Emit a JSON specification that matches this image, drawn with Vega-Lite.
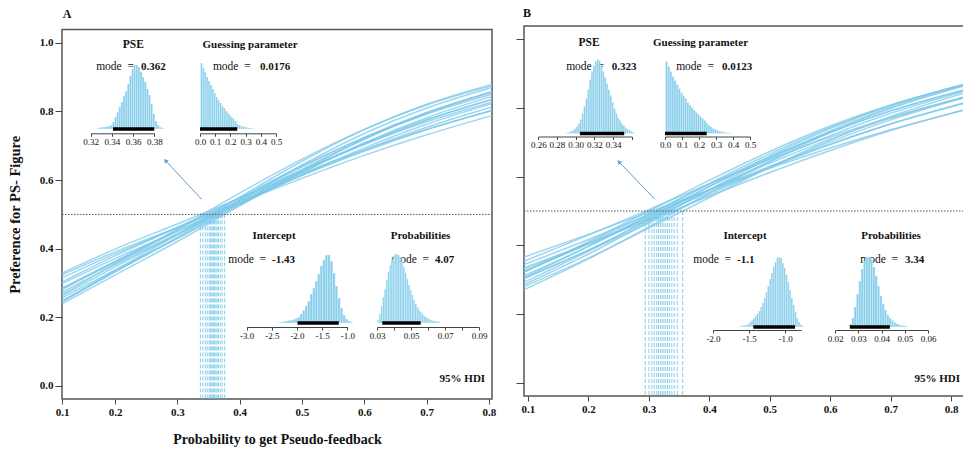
{
"$schema":"https://vega.github.io/schema/vega-lite/v6.json",
"width":963,"height":452,"autosize":{"type":"none"},"padding":0,"background":"white",
"config":{"view":{"stroke":null},"font":"Liberation Serif",
 "axis":{"grid":false,"domain":false,"zindex":1,"labelFont":"Liberation Serif","titleFont":"Liberation Serif","tickColor":"#444","domainColor":"#444","labelColor":"#111","titleColor":"#111","labelFlush":false,"labelOverlap":false},
 "text":{"font":"Liberation Serif","color":"#111"}},
"resolve":{"scale":{"x":"independent","y":"independent"},"axis":{"x":"independent","y":"independent"}},
"data":{"values":[{}]},
"datasets":{
"curvesA":[
{"c":"A1","x":0.1,"p":0.329},{"c":"A1","x":0.2,"p":0.399},{"c":"A1","x":0.3,"p":0.472},{"c":"A1","x":0.4,"p":0.547},{"c":"A1","x":0.5,"p":0.62},{"c":"A1","x":0.6,"p":0.688},{"c":"A1","x":0.7,"p":0.748},{"c":"A1","x":0.805,"p":0.803},
{"c":"A2","x":0.1,"p":0.267},{"c":"A2","x":0.2,"p":0.356},{"c":"A2","x":0.3,"p":0.457},{"c":"A2","x":0.4,"p":0.562},{"c":"A2","x":0.5,"p":0.661},{"c":"A2","x":0.6,"p":0.748},{"c":"A2","x":0.7,"p":0.819},{"c":"A2","x":0.805,"p":0.875},
{"c":"A3","x":0.1,"p":0.303},{"c":"A3","x":0.2,"p":0.379},{"c":"A3","x":0.3,"p":0.462},{"c":"A3","x":0.4,"p":0.547},{"c":"A3","x":0.5,"p":0.629},{"c":"A3","x":0.6,"p":0.704},{"c":"A3","x":0.7,"p":0.77},{"c":"A3","x":0.805,"p":0.827},
{"c":"A4","x":0.1,"p":0.281},{"c":"A4","x":0.2,"p":0.363},{"c":"A4","x":0.3,"p":0.455},{"c":"A4","x":0.4,"p":0.549},{"c":"A4","x":0.5,"p":0.641},{"c":"A4","x":0.6,"p":0.723},{"c":"A4","x":0.7,"p":0.792},{"c":"A4","x":0.805,"p":0.85},
{"c":"A5","x":0.1,"p":0.315},{"c":"A5","x":0.2,"p":0.385},{"c":"A5","x":0.3,"p":0.461},{"c":"A5","x":0.4,"p":0.538},{"c":"A5","x":0.5,"p":0.614},{"c":"A5","x":0.6,"p":0.684},{"c":"A5","x":0.7,"p":0.747},{"c":"A5","x":0.805,"p":0.803},
{"c":"A6","x":0.1,"p":0.246},{"c":"A6","x":0.2,"p":0.337},{"c":"A6","x":0.3,"p":0.441},{"c":"A6","x":0.4,"p":0.55},{"c":"A6","x":0.5,"p":0.655},{"c":"A6","x":0.6,"p":0.747},{"c":"A6","x":0.7,"p":0.821},{"c":"A6","x":0.805,"p":0.879},
{"c":"A7","x":0.1,"p":0.285},{"c":"A7","x":0.2,"p":0.363},{"c":"A7","x":0.3,"p":0.45},{"c":"A7","x":0.4,"p":0.539},{"c":"A7","x":0.5,"p":0.627},{"c":"A7","x":0.6,"p":0.706},{"c":"A7","x":0.7,"p":0.775},{"c":"A7","x":0.805,"p":0.834},
{"c":"A8","x":0.1,"p":0.263},{"c":"A8","x":0.2,"p":0.347},{"c":"A8","x":0.3,"p":0.442},{"c":"A8","x":0.4,"p":0.542},{"c":"A8","x":0.5,"p":0.638},{"c":"A8","x":0.6,"p":0.725},{"c":"A8","x":0.7,"p":0.797},{"c":"A8","x":0.805,"p":0.857},
{"c":"A9","x":0.1,"p":0.298},{"c":"A9","x":0.2,"p":0.371},{"c":"A9","x":0.3,"p":0.451},{"c":"A9","x":0.4,"p":0.533},{"c":"A9","x":0.5,"p":0.614},{"c":"A9","x":0.6,"p":0.688},{"c":"A9","x":0.7,"p":0.754},{"c":"A9","x":0.805,"p":0.813},
{"c":"A10","x":0.1,"p":0.245},{"c":"A10","x":0.2,"p":0.332},{"c":"A10","x":0.3,"p":0.434},{"c":"A10","x":0.4,"p":0.541},{"c":"A10","x":0.5,"p":0.644},{"c":"A10","x":0.6,"p":0.736},{"c":"A10","x":0.7,"p":0.81},{"c":"A10","x":0.805,"p":0.87},
{"c":"A11","x":0.1,"p":0.274},{"c":"A11","x":0.2,"p":0.353},{"c":"A11","x":0.3,"p":0.441},{"c":"A11","x":0.4,"p":0.533},{"c":"A11","x":0.5,"p":0.623},{"c":"A11","x":0.6,"p":0.705},{"c":"A11","x":0.7,"p":0.776},{"c":"A11","x":0.805,"p":0.836},
{"c":"A12","x":0.1,"p":0.283},{"c":"A12","x":0.2,"p":0.359},{"c":"A12","x":0.3,"p":0.443},{"c":"A12","x":0.4,"p":0.53},{"c":"A12","x":0.5,"p":0.615},{"c":"A12","x":0.6,"p":0.694},{"c":"A12","x":0.7,"p":0.763},{"c":"A12","x":0.805,"p":0.823},
{"c":"A13","x":0.1,"p":0.249},{"c":"A13","x":0.2,"p":0.333},{"c":"A13","x":0.3,"p":0.43},{"c":"A13","x":0.4,"p":0.532},{"c":"A13","x":0.5,"p":0.631},{"c":"A13","x":0.6,"p":0.72},{"c":"A13","x":0.7,"p":0.795},{"c":"A13","x":0.805,"p":0.857},
{"c":"A14","x":0.1,"p":0.257},{"c":"A14","x":0.2,"p":0.338},{"c":"A14","x":0.3,"p":0.43},{"c":"A14","x":0.4,"p":0.527},{"c":"A14","x":0.5,"p":0.622},{"c":"A14","x":0.6,"p":0.709},{"c":"A14","x":0.7,"p":0.782},{"c":"A14","x":0.805,"p":0.844},
{"c":"A15","x":0.1,"p":0.239},{"c":"A15","x":0.2,"p":0.323},{"c":"A15","x":0.3,"p":0.421},{"c":"A15","x":0.4,"p":0.525},{"c":"A15","x":0.5,"p":0.627},{"c":"A15","x":0.6,"p":0.719},{"c":"A15","x":0.7,"p":0.796},{"c":"A15","x":0.805,"p":0.858},
{"c":"A16","x":0.1,"p":0.324},{"c":"A16","x":0.2,"p":0.391},{"c":"A16","x":0.3,"p":0.462},{"c":"A16","x":0.4,"p":0.534},{"c":"A16","x":0.5,"p":0.605},{"c":"A16","x":0.6,"p":0.672},{"c":"A16","x":0.7,"p":0.732},{"c":"A16","x":0.805,"p":0.788}
],
"curvesB":[
{"c":"B1","x":0.0934,"p":0.354},{"c":"B1","x":0.2,"p":0.43},{"c":"B1","x":0.3,"p":0.504},{"c":"B1","x":0.4,"p":0.579},{"c":"B1","x":0.5,"p":0.65},{"c":"B1","x":0.6,"p":0.715},{"c":"B1","x":0.7,"p":0.772},{"c":"B1","x":0.82,"p":0.829},
{"c":"B2","x":0.0934,"p":0.322},{"c":"B2","x":0.2,"p":0.411},{"c":"B2","x":0.3,"p":0.5},{"c":"B2","x":0.4,"p":0.589},{"c":"B2","x":0.5,"p":0.673},{"c":"B2","x":0.6,"p":0.747},{"c":"B2","x":0.7,"p":0.808},{"c":"B2","x":0.82,"p":0.867},
{"c":"B3","x":0.0934,"p":0.366},{"c":"B3","x":0.2,"p":0.432},{"c":"B3","x":0.3,"p":0.497},{"c":"B3","x":0.4,"p":0.561},{"c":"B3","x":0.5,"p":0.624},{"c":"B3","x":0.6,"p":0.683},{"c":"B3","x":0.7,"p":0.736},{"c":"B3","x":0.82,"p":0.792},
{"c":"B4","x":0.0934,"p":0.324},{"c":"B4","x":0.2,"p":0.408},{"c":"B4","x":0.3,"p":0.492},{"c":"B4","x":0.4,"p":0.577},{"c":"B4","x":0.5,"p":0.657},{"c":"B4","x":0.6,"p":0.729},{"c":"B4","x":0.7,"p":0.791},{"c":"B4","x":0.82,"p":0.85},
{"c":"B5","x":0.0934,"p":0.307},{"c":"B5","x":0.2,"p":0.397},{"c":"B5","x":0.3,"p":0.488},{"c":"B5","x":0.4,"p":0.58},{"c":"B5","x":0.5,"p":0.666},{"c":"B5","x":0.6,"p":0.743},{"c":"B5","x":0.7,"p":0.807},{"c":"B5","x":0.82,"p":0.867},
{"c":"B6","x":0.0934,"p":0.344},{"c":"B6","x":0.2,"p":0.417},{"c":"B6","x":0.3,"p":0.489},{"c":"B6","x":0.4,"p":0.561},{"c":"B6","x":0.5,"p":0.63},{"c":"B6","x":0.6,"p":0.695},{"c":"B6","x":0.7,"p":0.753},{"c":"B6","x":0.82,"p":0.812},
{"c":"B7","x":0.0934,"p":0.312},{"c":"B7","x":0.2,"p":0.397},{"c":"B7","x":0.3,"p":0.483},{"c":"B7","x":0.4,"p":0.571},{"c":"B7","x":0.5,"p":0.653},{"c":"B7","x":0.6,"p":0.728},{"c":"B7","x":0.7,"p":0.791},{"c":"B7","x":0.82,"p":0.852},
{"c":"B8","x":0.0934,"p":0.324},{"c":"B8","x":0.2,"p":0.404},{"c":"B8","x":0.3,"p":0.483},{"c":"B8","x":0.4,"p":0.562},{"c":"B8","x":0.5,"p":0.639},{"c":"B8","x":0.6,"p":0.709},{"c":"B8","x":0.7,"p":0.77},{"c":"B8","x":0.82,"p":0.831},
{"c":"B9","x":0.0934,"p":0.293},{"c":"B9","x":0.2,"p":0.383},{"c":"B9","x":0.3,"p":0.476},{"c":"B9","x":0.4,"p":0.571},{"c":"B9","x":0.5,"p":0.66},{"c":"B9","x":0.6,"p":0.74},{"c":"B9","x":0.7,"p":0.806},{"c":"B9","x":0.82,"p":0.868},
{"c":"B10","x":0.0934,"p":0.331},{"c":"B10","x":0.2,"p":0.405},{"c":"B10","x":0.3,"p":0.479},{"c":"B10","x":0.4,"p":0.554},{"c":"B10","x":0.5,"p":0.626},{"c":"B10","x":0.6,"p":0.693},{"c":"B10","x":0.7,"p":0.753},{"c":"B10","x":0.82,"p":0.814},
{"c":"B11","x":0.0934,"p":0.303},{"c":"B11","x":0.2,"p":0.387},{"c":"B11","x":0.3,"p":0.473},{"c":"B11","x":0.4,"p":0.56},{"c":"B11","x":0.5,"p":0.644},{"c":"B11","x":0.6,"p":0.719},{"c":"B11","x":0.7,"p":0.784},{"c":"B11","x":0.82,"p":0.847},
{"c":"B12","x":0.0934,"p":0.286},{"c":"B12","x":0.2,"p":0.375},{"c":"B12","x":0.3,"p":0.468},{"c":"B12","x":0.4,"p":0.562},{"c":"B12","x":0.5,"p":0.653},{"c":"B12","x":0.6,"p":0.733},{"c":"B12","x":0.7,"p":0.801},{"c":"B12","x":0.82,"p":0.864},
{"c":"B13","x":0.0934,"p":0.335},{"c":"B13","x":0.2,"p":0.405},{"c":"B13","x":0.3,"p":0.474},{"c":"B13","x":0.4,"p":0.543},{"c":"B13","x":0.5,"p":0.612},{"c":"B13","x":0.6,"p":0.676},{"c":"B13","x":0.7,"p":0.734},{"c":"B13","x":0.82,"p":0.794},
{"c":"B14","x":0.0934,"p":0.305},{"c":"B14","x":0.2,"p":0.385},{"c":"B14","x":0.3,"p":0.465},{"c":"B14","x":0.4,"p":0.548},{"c":"B14","x":0.5,"p":0.627},{"c":"B14","x":0.6,"p":0.701},{"c":"B14","x":0.7,"p":0.765},{"c":"B14","x":0.82,"p":0.829},
{"c":"B15","x":0.0934,"p":0.271},{"c":"B15","x":0.2,"p":0.361},{"c":"B15","x":0.3,"p":0.454},{"c":"B15","x":0.4,"p":0.552},{"c":"B15","x":0.5,"p":0.645},{"c":"B15","x":0.6,"p":0.728},{"c":"B15","x":0.7,"p":0.798},{"c":"B15","x":0.82,"p":0.863},
{"c":"B16","x":0.0934,"p":0.28},{"c":"B16","x":0.2,"p":0.363},{"c":"B16","x":0.3,"p":0.45},{"c":"B16","x":0.4,"p":0.539},{"c":"B16","x":0.5,"p":0.627},{"c":"B16","x":0.6,"p":0.706},{"c":"B16","x":0.7,"p":0.775},{"c":"B16","x":0.82,"p":0.842}
],
"pseA":[{"v":0.337},{"v":0.341},{"v":0.345},{"v":0.348},{"v":0.351},{"v":0.353},{"v":0.354},{"v":0.356},{"v":0.358},{"v":0.36},{"v":0.362},{"v":0.364},{"v":0.366},{"v":0.369},{"v":0.372},{"v":0.376}],
"pseB":[{"v":0.294},{"v":0.3},{"v":0.305},{"v":0.309},{"v":0.313},{"v":0.316},{"v":0.319},{"v":0.322},{"v":0.325},{"v":0.328},{"v":0.331},{"v":0.334},{"v":0.338},{"v":0.342},{"v":0.347},{"v":0.356}],
"hApse":[{"v":0.326,"h":1},{"v":0.328,"h":1.5},{"v":0.33,"h":2},{"v":0.332,"h":2},{"v":0.334,"h":2.5},{"v":0.336,"h":3},{"v":0.338,"h":4},{"v":0.34,"h":7},{"v":0.342,"h":12},{"v":0.344,"h":17},{"v":0.346,"h":22},{"v":0.348,"h":27},{"v":0.35,"h":33},{"v":0.352,"h":38},{"v":0.354,"h":45},{"v":0.356,"h":53},{"v":0.358,"h":60},{"v":0.36,"h":64},{"v":0.362,"h":64},{"v":0.364,"h":62},{"v":0.366,"h":57},{"v":0.368,"h":52},{"v":0.37,"h":47},{"v":0.372,"h":40},{"v":0.374,"h":34},{"v":0.376,"h":25},{"v":0.378,"h":15},{"v":0.38,"h":8},{"v":0.382,"h":4},{"v":0.384,"h":2},{"v":0.386,"h":1}],
"hAguess":[{"v":0,"h":66},{"v":0.0125,"h":61},{"v":0.025,"h":57},{"v":0.0375,"h":52},{"v":0.05,"h":48},{"v":0.0625,"h":44},{"v":0.075,"h":40},{"v":0.0875,"h":36},{"v":0.1,"h":32},{"v":0.1125,"h":29},{"v":0.125,"h":26},{"v":0.1375,"h":23},{"v":0.15,"h":21},{"v":0.1625,"h":18},{"v":0.175,"h":16},{"v":0.1875,"h":14},{"v":0.2,"h":12},{"v":0.2125,"h":10},{"v":0.225,"h":8},{"v":0.2375,"h":5},{"v":0.25,"h":4},{"v":0.2625,"h":3},{"v":0.275,"h":2.5},{"v":0.2875,"h":2},{"v":0.3,"h":1.6},{"v":0.3125,"h":1.2},{"v":0.325,"h":1},{"v":0.3375,"h":0.7}],
"hAint":[{"v":-2.4,"h":0.5},{"v":-2.35,"h":1},{"v":-2.3,"h":1.5},{"v":-2.25,"h":2},{"v":-2.2,"h":2.5},{"v":-2.15,"h":3},{"v":-2.1,"h":3.5},{"v":-2.05,"h":4.5},{"v":-2.0,"h":6},{"v":-1.95,"h":9},{"v":-1.9,"h":12.5},{"v":-1.85,"h":17},{"v":-1.8,"h":22},{"v":-1.75,"h":29},{"v":-1.7,"h":35},{"v":-1.65,"h":42},{"v":-1.6,"h":49},{"v":-1.55,"h":57},{"v":-1.5,"h":63},{"v":-1.45,"h":68},{"v":-1.4,"h":68},{"v":-1.35,"h":62},{"v":-1.3,"h":50},{"v":-1.25,"h":37},{"v":-1.2,"h":25},{"v":-1.15,"h":15},{"v":-1.1,"h":8},{"v":-1.05,"h":4},{"v":-1.0,"h":2},{"v":-0.95,"h":1}],
"hAprob":[{"v":0.03,"h":3},{"v":0.031,"h":9},{"v":0.032,"h":17},{"v":0.033,"h":26},{"v":0.034,"h":34},{"v":0.035,"h":43},{"v":0.036,"h":51},{"v":0.037,"h":58},{"v":0.038,"h":63},{"v":0.039,"h":67},{"v":0.04,"h":69},{"v":0.041,"h":69},{"v":0.042,"h":68},{"v":0.043,"h":66},{"v":0.044,"h":61},{"v":0.045,"h":56},{"v":0.046,"h":50},{"v":0.047,"h":44},{"v":0.048,"h":38},{"v":0.049,"h":33},{"v":0.05,"h":28},{"v":0.051,"h":23},{"v":0.052,"h":19},{"v":0.053,"h":16},{"v":0.054,"h":13},{"v":0.055,"h":11},{"v":0.056,"h":9},{"v":0.057,"h":7},{"v":0.058,"h":6},{"v":0.059,"h":5},{"v":0.06,"h":4},{"v":0.061,"h":3},{"v":0.062,"h":2.5},{"v":0.063,"h":2},{"v":0.064,"h":1.7},{"v":0.065,"h":1.4},{"v":0.066,"h":1}],
"hBpse":[{"v":0.29,"h":1},{"v":0.292,"h":1.5},{"v":0.294,"h":2.5},{"v":0.296,"h":3.5},{"v":0.298,"h":5},{"v":0.3,"h":7},{"v":0.302,"h":10},{"v":0.304,"h":14},{"v":0.306,"h":20},{"v":0.308,"h":27},{"v":0.31,"h":35},{"v":0.312,"h":44},{"v":0.314,"h":54},{"v":0.316,"h":62},{"v":0.318,"h":68},{"v":0.32,"h":72},{"v":0.322,"h":74},{"v":0.324,"h":73},{"v":0.326,"h":68},{"v":0.328,"h":62},{"v":0.33,"h":56},{"v":0.332,"h":50},{"v":0.334,"h":44},{"v":0.336,"h":38},{"v":0.338,"h":31},{"v":0.34,"h":25},{"v":0.342,"h":20},{"v":0.344,"h":16},{"v":0.346,"h":13},{"v":0.348,"h":10},{"v":0.35,"h":8},{"v":0.352,"h":6},{"v":0.354,"h":4.5},{"v":0.356,"h":3.5},{"v":0.358,"h":2.5},{"v":0.36,"h":1.5}],
"hBguess":[{"v":0,"h":72},{"v":0.0125,"h":67},{"v":0.025,"h":62},{"v":0.0375,"h":57},{"v":0.05,"h":53},{"v":0.0625,"h":49},{"v":0.075,"h":45},{"v":0.0875,"h":41},{"v":0.1,"h":38},{"v":0.1125,"h":35},{"v":0.125,"h":31},{"v":0.1375,"h":28.5},{"v":0.15,"h":26},{"v":0.1625,"h":23.5},{"v":0.175,"h":21},{"v":0.1875,"h":19},{"v":0.2,"h":17},{"v":0.2125,"h":15},{"v":0.225,"h":13},{"v":0.2375,"h":10.5},{"v":0.25,"h":8},{"v":0.2625,"h":6.5},{"v":0.275,"h":5},{"v":0.2875,"h":4},{"v":0.3,"h":3.2},{"v":0.3125,"h":2.5},{"v":0.325,"h":2},{"v":0.3375,"h":1.5},{"v":0.35,"h":1},{"v":0.3625,"h":0.7},{"v":0.375,"h":0.5}],
"hBint":[{"v":-1.65,"h":0.5},{"v":-1.625,"h":1},{"v":-1.6,"h":1.3},{"v":-1.575,"h":1.7},{"v":-1.55,"h":2.2},{"v":-1.525,"h":3},{"v":-1.5,"h":5},{"v":-1.475,"h":7},{"v":-1.45,"h":9},{"v":-1.425,"h":11},{"v":-1.4,"h":13.5},{"v":-1.375,"h":16},{"v":-1.35,"h":20},{"v":-1.325,"h":24},{"v":-1.3,"h":29},{"v":-1.275,"h":35},{"v":-1.25,"h":41},{"v":-1.225,"h":48},{"v":-1.2,"h":54},{"v":-1.175,"h":60},{"v":-1.15,"h":65},{"v":-1.125,"h":69},{"v":-1.1,"h":70},{"v":-1.075,"h":69},{"v":-1.05,"h":64},{"v":-1.025,"h":59},{"v":-1.0,"h":52},{"v":-0.975,"h":45},{"v":-0.95,"h":37},{"v":-0.925,"h":29},{"v":-0.9,"h":22},{"v":-0.875,"h":15},{"v":-0.85,"h":9},{"v":-0.825,"h":5},{"v":-0.8,"h":2.5},{"v":-0.775,"h":1}],
"hBprob":[{"v":0.025,"h":0.5},{"v":0.026,"h":3},{"v":0.027,"h":9},{"v":0.028,"h":20},{"v":0.029,"h":33},{"v":0.03,"h":46},{"v":0.031,"h":58},{"v":0.032,"h":66},{"v":0.033,"h":70},{"v":0.034,"h":70},{"v":0.035,"h":67},{"v":0.036,"h":60},{"v":0.037,"h":51},{"v":0.038,"h":41},{"v":0.039,"h":31},{"v":0.04,"h":23},{"v":0.041,"h":17},{"v":0.042,"h":12},{"v":0.043,"h":9},{"v":0.044,"h":6.5},{"v":0.045,"h":4.5},{"v":0.046,"h":3.3},{"v":0.047,"h":2.3},{"v":0.048,"h":1.7},{"v":0.049,"h":1.2},{"v":0.05,"h":0.8}]
},
"layer":[
{"mark":{"type":"rect","fillOpacity":0,"stroke":"#555","strokeWidth":1.5},
 "encoding":{"x":{"datum":0.1,"type":"quantitative","scale":{"domain":[0.1,0.2,0.805],"range":[62,115,492],"zero":false,"nice":false},"axis":null},"x2":{"datum":0.805},
  "y":{"datum":-0.038,"type":"quantitative","scale":{"domain":[-0.038,1.039],"range":[399,29.5],"zero":false,"nice":false},"axis":null},"y2":{"datum":1.039}}},
{"data":{"name":"pseA"},"mark":{"type":"rule","color":"#87ceeb","strokeDash":[4,2],"strokeWidth":1},
 "encoding":{"x":{"field":"v","type":"quantitative","scale":{"domain":[0.1,0.2,0.805],"range":[62,115,492],"zero":false,"nice":false},"axis":null},
  "y":{"datum":0.5,"type":"quantitative","scale":{"domain":[-0.038,1.039],"range":[399,29.5],"zero":false,"nice":false},"axis":null},"y2":{"datum":-0.038}}},
{"data":{"name":"curvesA"},"mark":{"type":"line","interpolate":"monotone","strokeWidth":1.5,"color":"#7cc8e8","opacity":0.75},
 "encoding":{"x":{"field":"x","type":"quantitative","scale":{"domain":[0.1,0.2,0.805],"range":[62,115,492],"zero":false,"nice":false},
   "axis":{"orient":"bottom","offset":-53,"values":[0.1,0.2,0.3,0.4,0.5,0.6,0.7,0.8],"format":".1f","tickSize":5,"labelFontWeight":"bold","labelFontSize":11,"labelPadding":2,"title":"Probability to get Pseudo-feedback","titleFontSize":14,"titleFontWeight":"bold","titlePadding":15}},
  "y":{"field":"p","type":"quantitative","scale":{"domain":[-0.038,1.039],"range":[399,29.5],"zero":false,"nice":false},
   "axis":{"orient":"left","offset":-62,"values":[0,0.2,0.4,0.6,0.8,1],"format":".1f","tickSize":7,"labelFontWeight":"bold","labelFontSize":11,"labelPadding":2,"title":"Preference for PS- Figure","titleFontSize":14.5,"titleFontWeight":"bold","titlePadding":17}},
  "detail":{"field":"c"}}},
{"mark":{"type":"rule","color":"#555","strokeDash":[1.5,1.5],"strokeWidth":1},
 "encoding":{"x":{"datum":0.1,"type":"quantitative","scale":{"domain":[0.1,0.2,0.805],"range":[62,115,492],"zero":false,"nice":false},"axis":null},"x2":{"datum":0.805},
  "y":{"datum":0.5,"type":"quantitative","scale":{"domain":[-0.038,1.039],"range":[399,29.5],"zero":false,"nice":false},"axis":null}}},
{"mark":{"type":"rule","color":"#5a9fd8","strokeWidth":1},
 "encoding":{"x":{"datum":0.339,"type":"quantitative","scale":{"domain":[0.1,0.2,0.805],"range":[62,115,492],"zero":false,"nice":false},"axis":null},"x2":{"datum":0.28},
  "y":{"datum":0.544,"type":"quantitative","scale":{"domain":[-0.038,1.039],"range":[399,29.5],"zero":false,"nice":false},"axis":null},"y2":{"datum":0.659}}},
{"mark":{"type":"point","shape":"triangle-up","filled":true,"size":22,"angle":317,"color":"#5a9fd8","opacity":1},
 "encoding":{"x":{"datum":0.281,"type":"quantitative","scale":{"domain":[0.1,0.2,0.805],"range":[62,115,492],"zero":false,"nice":false},"axis":null},
  "y":{"datum":0.657,"type":"quantitative","scale":{"domain":[-0.038,1.039],"range":[399,29.5],"zero":false,"nice":false},"axis":null}}},
{"mark":{"type":"text","text":"A","fontWeight":"bold","fontSize":12,"baseline":"middle"},
 "encoding":{"x":{"datum":0.1094,"type":"quantitative","scale":{"domain":[0.1,0.2,0.805],"range":[62,115,492],"zero":false,"nice":false},"axis":null},
  "y":{"datum":1.085,"type":"quantitative","scale":{"domain":[-0.038,1.039],"range":[399,29.5],"zero":false,"nice":false},"axis":null}}},
{"mark":{"type":"text","text":"95% HDI","fontWeight":"bold","fontSize":11,"align":"right","baseline":"middle"},
 "encoding":{"x":{"datum":0.794,"type":"quantitative","scale":{"domain":[0.1,0.2,0.805],"range":[62,115,492],"zero":false,"nice":false},"axis":null},
  "y":{"datum":0.02,"type":"quantitative","scale":{"domain":[-0.038,1.039],"range":[399,29.5],"zero":false,"nice":false},"axis":null}}},

{"mark":{"type":"text","text":"PSE","fontWeight":"bold","fontSize":11.5,"baseline":"middle"},
 "encoding":{"x":{"datum":0.3602,"type":"quantitative","scale":{"domain":[0.32,0.38],"range":[90.7,154.3],"zero":false,"nice":false},"axis":null},
  "y":{"datum":84,"type":"quantitative","scale":{"domain":[0,100],"range":[129,29],"zero":false,"nice":false},"axis":null}}},
{"mark":{"type":"text","text":"mode\u00a0\u00a0=","align":"right","fontSize":11.5,"baseline":"middle"},
 "encoding":{"x":{"datum":0.3608,"type":"quantitative","scale":{"domain":[0.32,0.38],"range":[90.7,154.3],"zero":false,"nice":false},"axis":null},
  "y":{"datum":62.3,"type":"quantitative","scale":{"domain":[0,100],"range":[129,29],"zero":false,"nice":false},"axis":null}}},
{"mark":{"type":"text","text":"0.362","align":"left","fontWeight":"bold","fontSize":11,"baseline":"middle"},
 "encoding":{"x":{"datum":0.3675,"type":"quantitative","scale":{"domain":[0.32,0.38],"range":[90.7,154.3],"zero":false,"nice":false},"axis":null},
  "y":{"datum":62.3,"type":"quantitative","scale":{"domain":[0,100],"range":[129,29],"zero":false,"nice":false},"axis":null}}},
{"data":{"name":"hApse"},"mark":{"type":"bar","binSpacing":0,"color":"#87ceeb","stroke":"white","strokeWidth":0.3},
 "encoding":{"x":{"field":"v","type":"quantitative","bin":{"binned":true,"step":0.002},"scale":{"domain":[0.32,0.38],"range":[90.7,154.3],"zero":false,"nice":false},
   "axis":{"orient":"bottom","offset":-318.7,"values":[0.32,0.34,0.36,0.38],"format":".2f","tickSize":3,"labelFontSize":9,"labelPadding":1,"domain":true,"title":null}},
  "y":{"field":"h","type":"quantitative","scale":{"domain":[0,100],"range":[129,29],"zero":false,"nice":false},"axis":null}}},
{"mark":{"type":"rule","color":"black","strokeWidth":3.5},
 "encoding":{"x":{"datum":0.341,"type":"quantitative","scale":{"domain":[0.32,0.38],"range":[90.7,154.3],"zero":false,"nice":false},"axis":null},"x2":{"datum":0.38},
  "y":{"datum":0,"type":"quantitative","scale":{"domain":[0,100],"range":[129,29],"zero":false,"nice":false},"axis":null}}},

{"mark":{"type":"text","text":"Guessing parameter","fontWeight":"bold","fontSize":11,"baseline":"middle"},
 "encoding":{"x":{"datum":0.329,"type":"quantitative","scale":{"domain":[0,0.5],"range":[200,276],"zero":false,"nice":false},"axis":null},
  "y":{"datum":84,"type":"quantitative","scale":{"domain":[0,100],"range":[129,29],"zero":false,"nice":false},"axis":null}}},
{"mark":{"type":"text","text":"mode\u00a0\u00a0=","align":"right","fontSize":11.5,"baseline":"middle"},
 "encoding":{"x":{"datum":0.3336,"type":"quantitative","scale":{"domain":[0,0.5],"range":[200,276],"zero":false,"nice":false},"axis":null},
  "y":{"datum":62.3,"type":"quantitative","scale":{"domain":[0,100],"range":[129,29],"zero":false,"nice":false},"axis":null}}},
{"mark":{"type":"text","text":"0.0176","align":"left","fontWeight":"bold","fontSize":11,"baseline":"middle"},
 "encoding":{"x":{"datum":0.395,"type":"quantitative","scale":{"domain":[0,0.5],"range":[200,276],"zero":false,"nice":false},"axis":null},
  "y":{"datum":62.3,"type":"quantitative","scale":{"domain":[0,100],"range":[129,29],"zero":false,"nice":false},"axis":null}}},
{"data":{"name":"hAguess"},"mark":{"type":"bar","binSpacing":0,"color":"#87ceeb","stroke":"white","strokeWidth":0.3},
 "encoding":{"x":{"field":"v","type":"quantitative","bin":{"binned":true,"step":0.0125},"scale":{"domain":[0,0.5],"range":[200,276],"zero":false,"nice":false},
   "axis":{"orient":"bottom","offset":-318.7,"values":[0,0.1,0.2,0.3,0.4,0.5],"format":".1f","tickSize":3,"labelFontSize":9,"labelPadding":1,"domain":true,"title":null}},
  "y":{"field":"h","type":"quantitative","scale":{"domain":[0,100],"range":[129,29],"zero":false,"nice":false},"axis":null}}},
{"mark":{"type":"rule","color":"black","strokeWidth":3.5},
 "encoding":{"x":{"datum":0,"type":"quantitative","scale":{"domain":[0,0.5],"range":[200,276],"zero":false,"nice":false},"axis":null},"x2":{"datum":0.245},
  "y":{"datum":0,"type":"quantitative","scale":{"domain":[0,100],"range":[129,29],"zero":false,"nice":false},"axis":null}}},

{"mark":{"type":"text","text":"Intercept","fontWeight":"bold","fontSize":11,"baseline":"middle"},
 "encoding":{"x":{"datum":-2.457,"type":"quantitative","scale":{"domain":[-3,-1],"range":[246.7,347.3],"zero":false,"nice":false},"axis":null},
  "y":{"datum":87,"type":"quantitative","scale":{"domain":[0,100],"range":[323,223],"zero":false,"nice":false},"axis":null}}},
{"mark":{"type":"text","text":"mode\u00a0\u00a0=","align":"right","fontSize":11.5,"baseline":"middle"},
 "encoding":{"x":{"datum":-2.616,"type":"quantitative","scale":{"domain":[-3,-1],"range":[246.7,347.3],"zero":false,"nice":false},"axis":null},
  "y":{"datum":63,"type":"quantitative","scale":{"domain":[0,100],"range":[323,223],"zero":false,"nice":false},"axis":null}}},
{"mark":{"type":"text","text":"-1.43","align":"left","fontWeight":"bold","fontSize":11,"baseline":"middle"},
 "encoding":{"x":{"datum":-2.497,"type":"quantitative","scale":{"domain":[-3,-1],"range":[246.7,347.3],"zero":false,"nice":false},"axis":null},
  "y":{"datum":63,"type":"quantitative","scale":{"domain":[0,100],"range":[323,223],"zero":false,"nice":false},"axis":null}}},
{"data":{"name":"hAint"},"mark":{"type":"bar","binSpacing":0,"color":"#87ceeb","stroke":"white","strokeWidth":0.3},
 "encoding":{"x":{"field":"v","type":"quantitative","bin":{"binned":true,"step":0.05},"scale":{"domain":[-3,-1],"range":[246.7,347.3],"zero":false,"nice":false},
   "axis":{"orient":"bottom","offset":-125,"values":[-3,-2.5,-2,-1.5,-1],"format":".1f","labelExpr":"replace(datum.label, '\u2212', '-')","tickSize":3,"labelFontSize":9,"labelPadding":1,"domain":true,"title":null}},
  "y":{"field":"h","type":"quantitative","scale":{"domain":[0,100],"range":[323,223],"zero":false,"nice":false},"axis":null}}},
{"mark":{"type":"rule","color":"black","strokeWidth":3.5},
 "encoding":{"x":{"datum":-1.99,"type":"quantitative","scale":{"domain":[-3,-1],"range":[246.7,347.3],"zero":false,"nice":false},"axis":null},"x2":{"datum":-1.17},
  "y":{"datum":0,"type":"quantitative","scale":{"domain":[0,100],"range":[323,223],"zero":false,"nice":false},"axis":null}}},

{"mark":{"type":"text","text":"Probabilities","fontWeight":"bold","fontSize":11,"baseline":"middle"},
 "encoding":{"x":{"datum":0.0556,"type":"quantitative","scale":{"domain":[0.03,0.09],"range":[377,479],"zero":false,"nice":false},"axis":null},
  "y":{"datum":87,"type":"quantitative","scale":{"domain":[0,100],"range":[323,223],"zero":false,"nice":false},"axis":null}}},
{"mark":{"type":"text","text":"mode\u00a0\u00a0=","align":"right","fontSize":11.5,"baseline":"middle"},
 "encoding":{"x":{"datum":0.0606,"type":"quantitative","scale":{"domain":[0.03,0.09],"range":[377,479],"zero":false,"nice":false},"axis":null},
  "y":{"datum":63,"type":"quantitative","scale":{"domain":[0,100],"range":[323,223],"zero":false,"nice":false},"axis":null}}},
{"mark":{"type":"text","text":"4.07","align":"left","fontWeight":"bold","fontSize":11,"baseline":"middle"},
 "encoding":{"x":{"datum":0.0641,"type":"quantitative","scale":{"domain":[0.03,0.09],"range":[377,479],"zero":false,"nice":false},"axis":null},
  "y":{"datum":63,"type":"quantitative","scale":{"domain":[0,100],"range":[323,223],"zero":false,"nice":false},"axis":null}}},
{"data":{"name":"hAprob"},"mark":{"type":"bar","binSpacing":0,"color":"#87ceeb","stroke":"white","strokeWidth":0.3},
 "encoding":{"x":{"field":"v","type":"quantitative","bin":{"binned":true,"step":0.001},"scale":{"domain":[0.03,0.09],"range":[377,479],"zero":false,"nice":false},
   "axis":{"orient":"bottom","offset":-125,"values":[0.03,0.04,0.05,0.06,0.07,0.08,0.09],"format":".2f","labelExpr":"indexof(['0.03','0.05','0.07','0.09'], datum.label) >= 0 ? datum.label : ''","tickSize":3,"labelFontSize":9,"labelPadding":1,"domain":true,"title":null}},
  "y":{"field":"h","type":"quantitative","scale":{"domain":[0,100],"range":[323,223],"zero":false,"nice":false},"axis":null}}},
{"mark":{"type":"rule","color":"black","strokeWidth":3.5},
 "encoding":{"x":{"datum":0.0331,"type":"quantitative","scale":{"domain":[0.03,0.09],"range":[377,479],"zero":false,"nice":false},"axis":null},"x2":{"datum":0.0557},
  "y":{"datum":0,"type":"quantitative","scale":{"domain":[0,100],"range":[323,223],"zero":false,"nice":false},"axis":null}}},

{"mark":{"type":"rect","fillOpacity":0,"stroke":"#555","strokeWidth":1.5},
 "encoding":{"x":{"datum":0.0934,"type":"quantitative","scale":{"domain":[0.0934,0.8198],"range":[524,963],"zero":false,"nice":false},"axis":null},"x2":{"datum":0.84},
  "y":{"datum":-0.0378,"type":"quantitative","scale":{"domain":[-0.0378,1.0378],"range":[396,26],"zero":false,"nice":false},"axis":null},"y2":{"datum":1.0378}}},
{"data":{"name":"pseB"},"mark":{"type":"rule","color":"#87ceeb","strokeDash":[4,2],"strokeWidth":1},
 "encoding":{"x":{"field":"v","type":"quantitative","scale":{"domain":[0.0934,0.8198],"range":[524,963],"zero":false,"nice":false},"axis":null},
  "y":{"datum":0.5,"type":"quantitative","scale":{"domain":[-0.0378,1.0378],"range":[396,26],"zero":false,"nice":false},"axis":null},"y2":{"datum":-0.0378}}},
{"data":{"name":"curvesB"},"mark":{"type":"line","interpolate":"monotone","strokeWidth":1.5,"color":"#7cc8e8","opacity":0.75},
 "encoding":{"x":{"field":"x","type":"quantitative","scale":{"domain":[0.0934,0.8198],"range":[524,963],"zero":false,"nice":false},
   "axis":{"orient":"bottom","offset":-56,"values":[0.1,0.2,0.3,0.4,0.5,0.6,0.7,0.8],"format":".1f","tickSize":5,"labelFontWeight":"bold","labelFontSize":11,"labelPadding":2,"title":null}},
  "y":{"field":"p","type":"quantitative","scale":{"domain":[-0.0378,1.0378],"range":[396,26],"zero":false,"nice":false},
   "axis":{"orient":"left","offset":-524,"values":[0,0.2,0.4,0.6,0.8,1],"tickSize":8,"labels":false,"title":null}},
  "detail":{"field":"c"}}},
{"mark":{"type":"rule","color":"#555","strokeDash":[1.5,1.5],"strokeWidth":1},
 "encoding":{"x":{"datum":0.0934,"type":"quantitative","scale":{"domain":[0.0934,0.8198],"range":[524,963],"zero":false,"nice":false},"axis":null},"x2":{"datum":0.8198},
  "y":{"datum":0.5,"type":"quantitative","scale":{"domain":[-0.0378,1.0378],"range":[396,26],"zero":false,"nice":false},"axis":null}}},
{"mark":{"type":"rule","color":"#5a9fd8","strokeWidth":1},
 "encoding":{"x":{"datum":0.31,"type":"quantitative","scale":{"domain":[0.0934,0.8198],"range":[524,963],"zero":false,"nice":false},"axis":null},"x2":{"datum":0.2494},
  "y":{"datum":0.534,"type":"quantitative","scale":{"domain":[-0.0378,1.0378],"range":[396,26],"zero":false,"nice":false},"axis":null},"y2":{"datum":0.645}}},
{"mark":{"type":"point","shape":"triangle-up","filled":true,"size":22,"angle":316,"color":"#5a9fd8","opacity":1},
 "encoding":{"x":{"datum":0.2504,"type":"quantitative","scale":{"domain":[0.0934,0.8198],"range":[524,963],"zero":false,"nice":false},"axis":null},
  "y":{"datum":0.643,"type":"quantitative","scale":{"domain":[-0.0378,1.0378],"range":[396,26],"zero":false,"nice":false},"axis":null}}},
{"mark":{"type":"text","text":"B","fontWeight":"bold","fontSize":12,"baseline":"middle"},
 "encoding":{"x":{"datum":0.0984,"type":"quantitative","scale":{"domain":[0.0934,0.8198],"range":[524,963],"zero":false,"nice":false},"axis":null},
  "y":{"datum":1.0756,"type":"quantitative","scale":{"domain":[-0.0378,1.0378],"range":[396,26],"zero":false,"nice":false},"axis":null}}},
{"mark":{"type":"text","text":"95% HDI","fontWeight":"bold","fontSize":11,"align":"right","baseline":"middle"},
 "encoding":{"x":{"datum":0.8149,"type":"quantitative","scale":{"domain":[0.0934,0.8198],"range":[524,963],"zero":false,"nice":false},"axis":null},
  "y":{"datum":0.011,"type":"quantitative","scale":{"domain":[-0.0378,1.0378],"range":[396,26],"zero":false,"nice":false},"axis":null}}},

{"mark":{"type":"text","text":"PSE","fontWeight":"bold","fontSize":11.5,"baseline":"middle"},
 "encoding":{"x":{"datum":0.3143,"type":"quantitative","scale":{"domain":[0.26,0.36],"range":[538.3,631.7],"zero":false,"nice":false},"axis":null},
  "y":{"datum":90.2,"type":"quantitative","scale":{"domain":[0,100],"range":[133.5,33.5],"zero":false,"nice":false},"axis":null}}},
{"mark":{"type":"text","text":"mode\u00a0\u00a0=","align":"right","fontSize":11.5,"baseline":"middle"},
 "encoding":{"x":{"datum":0.3303,"type":"quantitative","scale":{"domain":[0.26,0.36],"range":[538.3,631.7],"zero":false,"nice":false},"axis":null},
  "y":{"datum":66.8,"type":"quantitative","scale":{"domain":[0,100],"range":[133.5,33.5],"zero":false,"nice":false},"axis":null}}},
{"mark":{"type":"text","text":"0.323","align":"left","fontWeight":"bold","fontSize":11,"baseline":"middle"},
 "encoding":{"x":{"datum":0.3386,"type":"quantitative","scale":{"domain":[0.26,0.36],"range":[538.3,631.7],"zero":false,"nice":false},"axis":null},
  "y":{"datum":66.8,"type":"quantitative","scale":{"domain":[0,100],"range":[133.5,33.5],"zero":false,"nice":false},"axis":null}}},
{"data":{"name":"hBpse"},"mark":{"type":"bar","binSpacing":0,"color":"#87ceeb","stroke":"white","strokeWidth":0.3},
 "encoding":{"x":{"field":"v","type":"quantitative","bin":{"binned":true,"step":0.002},"scale":{"domain":[0.26,0.36],"range":[538.3,631.7],"zero":false,"nice":false},
   "axis":{"orient":"bottom","offset":-315.5,"values":[0.26,0.28,0.3,0.32,0.34,0.36],"format":".2f","labelExpr":"datum.value > 0.35 ? '' : datum.label","tickSize":3,"labelFontSize":9,"labelPadding":1,"domain":true,"title":null}},
  "y":{"field":"h","type":"quantitative","scale":{"domain":[0,100],"range":[133.5,33.5],"zero":false,"nice":false},"axis":null}}},
{"mark":{"type":"rule","color":"black","strokeWidth":3.5},
 "encoding":{"x":{"datum":0.3046,"type":"quantitative","scale":{"domain":[0.26,0.36],"range":[538.3,631.7],"zero":false,"nice":false},"axis":null},"x2":{"datum":0.352},
  "y":{"datum":0,"type":"quantitative","scale":{"domain":[0,100],"range":[133.5,33.5],"zero":false,"nice":false},"axis":null}}},

{"mark":{"type":"text","text":"Guessing parameter","fontWeight":"bold","fontSize":11,"baseline":"middle"},
 "encoding":{"x":{"datum":0.209,"type":"quantitative","scale":{"domain":[0,0.5],"range":[665,750],"zero":false,"nice":false},"axis":null},
  "y":{"datum":90.2,"type":"quantitative","scale":{"domain":[0,100],"range":[133.5,33.5],"zero":false,"nice":false},"axis":null}}},
{"mark":{"type":"text","text":"mode\u00a0\u00a0=","align":"right","fontSize":11.5,"baseline":"middle"},
 "encoding":{"x":{"datum":0.288,"type":"quantitative","scale":{"domain":[0,0.5],"range":[665,750],"zero":false,"nice":false},"axis":null},
  "y":{"datum":66.8,"type":"quantitative","scale":{"domain":[0,100],"range":[133.5,33.5],"zero":false,"nice":false},"axis":null}}},
{"mark":{"type":"text","text":"0.0123","align":"left","fontWeight":"bold","fontSize":11,"baseline":"middle"},
 "encoding":{"x":{"datum":0.335,"type":"quantitative","scale":{"domain":[0,0.5],"range":[665,750],"zero":false,"nice":false},"axis":null},
  "y":{"datum":66.8,"type":"quantitative","scale":{"domain":[0,100],"range":[133.5,33.5],"zero":false,"nice":false},"axis":null}}},
{"data":{"name":"hBguess"},"mark":{"type":"bar","binSpacing":0,"color":"#87ceeb","stroke":"white","strokeWidth":0.3},
 "encoding":{"x":{"field":"v","type":"quantitative","bin":{"binned":true,"step":0.0125},"scale":{"domain":[0,0.5],"range":[665,750],"zero":false,"nice":false},
   "axis":{"orient":"bottom","offset":-315.5,"values":[0,0.1,0.2,0.3,0.4,0.5],"format":".1f","tickSize":3,"labelFontSize":9,"labelPadding":1,"domain":true,"title":null}},
  "y":{"field":"h","type":"quantitative","scale":{"domain":[0,100],"range":[133.5,33.5],"zero":false,"nice":false},"axis":null}}},
{"mark":{"type":"rule","color":"black","strokeWidth":3.5},
 "encoding":{"x":{"datum":0,"type":"quantitative","scale":{"domain":[0,0.5],"range":[665,750],"zero":false,"nice":false},"axis":null},"x2":{"datum":0.245},
  "y":{"datum":0,"type":"quantitative","scale":{"domain":[0,100],"range":[133.5,33.5],"zero":false,"nice":false},"axis":null}}},

{"mark":{"type":"text","text":"Intercept","fontWeight":"bold","fontSize":11,"baseline":"middle"},
 "encoding":{"x":{"datum":-1.556,"type":"quantitative","scale":{"domain":[-2,-0.778],"range":[713,801],"zero":false,"nice":false},"axis":null},
  "y":{"datum":91,"type":"quantitative","scale":{"domain":[0,100],"range":[327,227],"zero":false,"nice":false},"axis":null}}},
{"mark":{"type":"text","text":"mode\u00a0\u00a0=","align":"right","fontSize":11.5,"baseline":"middle"},
 "encoding":{"x":{"datum":-1.75,"type":"quantitative","scale":{"domain":[-2,-0.778],"range":[713,801],"zero":false,"nice":false},"axis":null},
  "y":{"datum":67,"type":"quantitative","scale":{"domain":[0,100],"range":[327,227],"zero":false,"nice":false},"axis":null}}},
{"mark":{"type":"text","text":"-1.1","align":"left","fontWeight":"bold","fontSize":11,"baseline":"middle"},
 "encoding":{"x":{"datum":-1.667,"type":"quantitative","scale":{"domain":[-2,-0.778],"range":[713,801],"zero":false,"nice":false},"axis":null},
  "y":{"datum":67,"type":"quantitative","scale":{"domain":[0,100],"range":[327,227],"zero":false,"nice":false},"axis":null}}},
{"data":{"name":"hBint"},"mark":{"type":"bar","binSpacing":0,"color":"#87ceeb","stroke":"white","strokeWidth":0.3},
 "encoding":{"x":{"field":"v","type":"quantitative","bin":{"binned":true,"step":0.025},"scale":{"domain":[-2,-0.778],"range":[713,801],"zero":false,"nice":false},
   "axis":{"orient":"bottom","offset":-122,"values":[-2,-1.5,-1],"format":".1f","labelExpr":"replace(datum.label, '\u2212', '-')","tickSize":3,"labelFontSize":9,"labelPadding":1,"domain":true,"title":null}},
  "y":{"field":"h","type":"quantitative","scale":{"domain":[0,100],"range":[327,227],"zero":false,"nice":false},"axis":null}}},
{"mark":{"type":"rule","color":"black","strokeWidth":3.5},
 "encoding":{"x":{"datum":-1.44,"type":"quantitative","scale":{"domain":[-2,-0.778],"range":[713,801],"zero":false,"nice":false},"axis":null},"x2":{"datum":-0.861},
  "y":{"datum":0,"type":"quantitative","scale":{"domain":[0,100],"range":[327,227],"zero":false,"nice":false},"axis":null}}},

{"mark":{"type":"text","text":"Probabilities","fontWeight":"bold","fontSize":11,"baseline":"middle"},
 "encoding":{"x":{"datum":0.0441,"type":"quantitative","scale":{"domain":[0.02,0.06],"range":[835,928],"zero":false,"nice":false},"axis":null},
  "y":{"datum":91,"type":"quantitative","scale":{"domain":[0,100],"range":[327,227],"zero":false,"nice":false},"axis":null}}},
{"mark":{"type":"text","text":"mode\u00a0\u00a0=","align":"right","fontSize":11.5,"baseline":"middle"},
 "encoding":{"x":{"datum":0.0471,"type":"quantitative","scale":{"domain":[0.02,0.06],"range":[835,928],"zero":false,"nice":false},"axis":null},
  "y":{"datum":67,"type":"quantitative","scale":{"domain":[0,100],"range":[327,227],"zero":false,"nice":false},"axis":null}}},
{"mark":{"type":"text","text":"3.34","align":"left","fontWeight":"bold","fontSize":11,"baseline":"middle"},
 "encoding":{"x":{"datum":0.0501,"type":"quantitative","scale":{"domain":[0.02,0.06],"range":[835,928],"zero":false,"nice":false},"axis":null},
  "y":{"datum":67,"type":"quantitative","scale":{"domain":[0,100],"range":[327,227],"zero":false,"nice":false},"axis":null}}},
{"data":{"name":"hBprob"},"mark":{"type":"bar","binSpacing":0,"color":"#87ceeb","stroke":"white","strokeWidth":0.3},
 "encoding":{"x":{"field":"v","type":"quantitative","bin":{"binned":true,"step":0.001},"scale":{"domain":[0.02,0.06],"range":[835,928],"zero":false,"nice":false},
   "axis":{"orient":"bottom","offset":-122,"values":[0.02,0.03,0.04,0.05,0.06],"format":".2f","tickSize":3,"labelFontSize":9,"labelPadding":1,"domain":true,"title":null}},
  "y":{"field":"h","type":"quantitative","scale":{"domain":[0,100],"range":[327,227],"zero":false,"nice":false},"axis":null}}},
{"mark":{"type":"rule","color":"black","strokeWidth":3.5},
 "encoding":{"x":{"datum":0.0264,"type":"quantitative","scale":{"domain":[0.02,0.06],"range":[835,928],"zero":false,"nice":false},"axis":null},"x2":{"datum":0.0436},
  "y":{"datum":0,"type":"quantitative","scale":{"domain":[0,100],"range":[327,227],"zero":false,"nice":false},"axis":null}}}
]
}
